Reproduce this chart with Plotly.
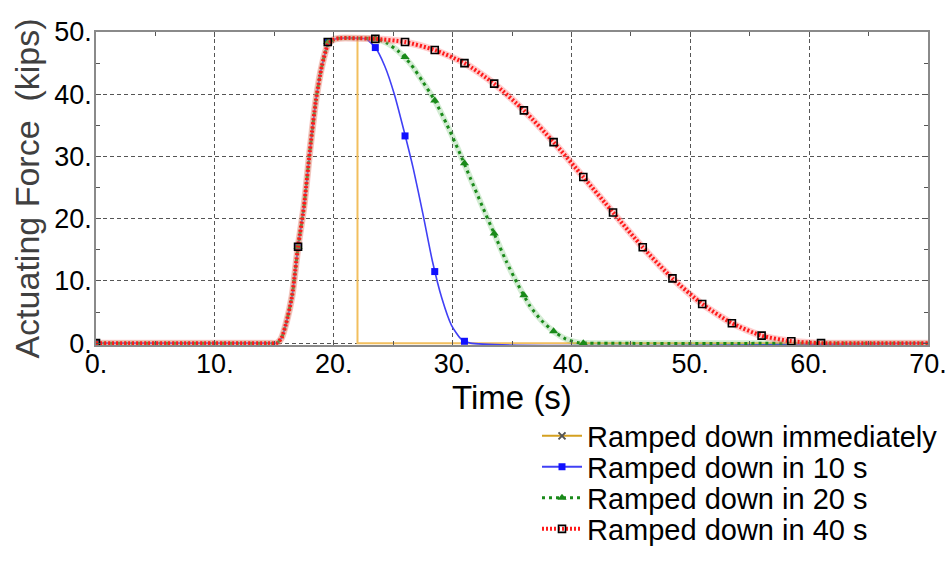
import plotly.graph_objects as go

# shared ramp-up (s, kips)
rise_t = [0, 14.5, 15.2, 15.6, 16.0, 16.5, 17.0, 17.5, 18.0, 18.5, 19.0, 19.5, 20.0, 20.5, 22.0]
rise_f = [0, 0, 0, 0.8, 3.2, 7.6, 15.5, 22.0, 31.0, 39.0, 44.5, 47.9, 48.8, 49.0, 49.0]

# ramp-down branches
imm_t = [22.0, 70]
imm_f = [0, 0]

r10_t = [22.7, 23.5, 24.3, 25.1, 25.9, 26.7, 27.5, 28.3, 29.1, 29.9, 30.7, 31.5, 70]
r10_f = [48.9, 47.5, 44.5, 40.0, 34.2, 28.0, 20.8, 13.2, 7.2, 2.9, 0.7, 0, 0]

r20_t = [23.5, 24.5, 25.5, 26.5, 27.5, 28.5, 29.5, 30.5, 31.5, 32.5, 33.5, 34.5, 35.5,
         36.5, 37.5, 38.5, 39.5, 40.5, 41.5, 70]
r20_f = [48.9, 48.2, 46.8, 44.8, 42.0, 39.0, 35.2, 31.0, 26.5, 22.0, 17.6, 13.2, 9.4,
         6.0, 3.6, 1.9, 0.7, 0.1, 0, 0]

r40_t = [23.5, 26.0, 28.5, 31.0, 33.5, 36.0, 38.5, 41.0, 43.5, 46.0, 48.5, 51.0, 53.5,
         56.0, 58.5, 61.0, 70]
r40_f = [48.9, 48.4, 47.1, 45.0, 41.7, 37.4, 32.3, 26.7, 21.0, 15.4, 10.4, 6.3, 3.2,
         1.2, 0.3, 0, 0]

# plotted marker samples
mk10_t = [0, 17.0, 19.5, 23.5, 26.0, 28.5, 31.0]
mk10_f = [0, 15.5, 48.4, 47.5, 33.3, 11.5, 0.3]
mk20_t = [0, 17.0, 19.5, 23.5, 26.0, 28.5, 31.0, 33.5, 36.0, 38.5, 41.0]
mk20_f = [0, 15.5, 48.4, 48.9, 46.0, 39.0, 28.9, 17.6, 7.7, 1.9, 0]
mk40_t = [0, 17.0, 19.5, 23.5, 26.0, 28.5, 31.0, 33.5, 36.0, 38.5, 41.0, 43.5, 46.0,
          48.5, 51.0, 53.5, 56.0, 58.5, 61.0]
mk40_f = [0, 15.5, 48.4, 48.9, 48.4, 47.1, 45.0, 41.7, 37.4, 32.3, 26.7, 21.0, 15.4,
          10.4, 6.3, 3.2, 1.2, 0.3, 0]

x_ticks = [0, 10, 20, 30, 40, 50, 60, 70]
y_ticks = [0, 10, 20, 30, 40, 50]

names = ["Ramped down immediately", "Ramped down in 10 s",
         "Ramped down in 20 s", "Ramped down in 40 s"]

FONT = "Liberation Sans, Arial, sans-serif"
GOLD = "#f2bf5e"
BLUE = "#4040f5"
GREEN = "#1a8a1a"
RED = "#ff1a1a"

fig = go.Figure()

# immediately: up, hold, drop at 22 s
fig.add_trace(go.Scatter(x=rise_t + imm_t, y=rise_f + imm_f, mode="lines",
                         line=dict(color=GOLD, width=2), showlegend=False))

# 10 s
fig.add_trace(go.Scatter(x=rise_t + r10_t, y=rise_f + r10_f, mode="lines",
                         line=dict(color=BLUE, width=1.6, shape="spline", smoothing=0.6),
                         showlegend=False))
fig.add_trace(go.Scatter(x=mk10_t, y=mk10_f, mode="markers",
                         marker=dict(symbol="square", size=7, color="#1010ff"),
                         showlegend=False))

# 20 s (dotted with a soft halo)
fig.add_trace(go.Scatter(x=rise_t + r20_t, y=rise_f + r20_f, mode="lines",
                         line=dict(color="rgba(60,170,60,0.22)", width=6, shape="spline", smoothing=0.6),
                         showlegend=False))
fig.add_trace(go.Scatter(x=rise_t + r20_t, y=rise_f + r20_f, mode="lines",
                         line=dict(color=GREEN, width=3, dash="3px,4px", shape="spline", smoothing=0.6),
                         showlegend=False))
fig.add_trace(go.Scatter(x=mk20_t, y=mk20_f, mode="markers",
                         marker=dict(symbol="triangle-up", size=8, color=GREEN),
                         showlegend=False))

# 40 s (red hatched line on a pink band)
fig.add_trace(go.Scatter(x=rise_t + r40_t, y=rise_f + r40_f, mode="lines",
                         line=dict(color="rgba(255,130,130,0.4)", width=7, shape="spline", smoothing=0.6),
                         showlegend=False))
fig.add_trace(go.Scatter(x=rise_t + r40_t, y=rise_f + r40_f, mode="lines",
                         line=dict(color=RED, width=4, dash="2px,2px", shape="spline", smoothing=0.6),
                         showlegend=False))
fig.add_trace(go.Scatter(x=mk40_t, y=mk40_f, mode="markers",
                         marker=dict(symbol="square-open", size=7, color="black",
                                     line=dict(width=1.6)),
                         showlegend=False))

# legend entries, one small legend each so the rows sit close together
leg_styles = [
    dict(line=dict(color="#d4a020", width=2),
         marker=dict(symbol="x-thin", size=7, color="#555", line=dict(width=2, color="#555"))),
    dict(line=dict(color=BLUE, width=2),
         marker=dict(symbol="square", size=7, color="#1010ff")),
    dict(line=dict(color=GREEN, width=3, dash="3px,4px"),
         marker=dict(symbol="triangle-up", size=8, color=GREEN)),
    dict(line=dict(color=RED, width=4, dash="2px,2px"),
         marker=dict(symbol="square-open", size=7, color="black", line=dict(width=1.6))),
]
leg_ids = ["legend", "legend2", "legend3", "legend4"]
for name, style, lid in zip(names, leg_styles, leg_ids):
    fig.add_trace(go.Scatter(x=[None], y=[None], mode="lines+markers", name=name,
                             legend=lid, showlegend=True, **style))

axis_common = dict(
    showgrid=True, gridcolor="#555", gridwidth=1.3, griddash="4px,3px",
    showline=True, linecolor="#8a8a8a", linewidth=1.5, mirror="ticks",
    ticks="inside", ticklen=5, tickcolor="#555",
    minor=dict(ticks="inside", ticklen=4, tickcolor="#555", showgrid=False),
    zeroline=False, automargin=False,
)

fig.update_xaxes(**axis_common, range=[0, 70], tickvals=x_ticks,
                 ticktext=[f"{v}." for v in x_ticks], minor_dtick=5,
                 tickfont=dict(family=FONT, size=27, color="black"),
                 ticklabelstandoff=-6,
                 title=dict(text="Time (s)", font=dict(family=FONT, size=33, color="black"),
                            standoff=0))
fig.update_yaxes(**axis_common, range=[-0.3, 50], tickvals=y_ticks,
                 ticktext=[f"{v}." for v in y_ticks], minor_dtick=5,
                 tickfont=dict(family=FONT, size=27, color="black"),
                 ticklabelstandoff=-3,
                 title=dict(text="Actuating Force  (kips)",
                            font=dict(family=FONT, size=34, color="#404040"),
                            standoff=4))

leg_rows = [436, 467, 498, 529]
leg_common = dict(xref="container", yref="container", x=537 / 950,
                  xanchor="left", yanchor="middle", bgcolor="rgba(0,0,0,0)",
                  font=dict(family=FONT, size=29, color="black"), itemwidth=40)
legends = {lid: dict(leg_common, y=1 - row / 567) for lid, row in zip(leg_ids, leg_rows)}

fig.update_layout(
    width=950, height=567,
    plot_bgcolor="white", paper_bgcolor="white",
    margin=dict(l=96, r=22, t=32, b=222, autoexpand=False),
    **legends,
)

fig.write_html("out.html", config={"displayModeBar": False},
               post_script="document.body.style.margin = '0';")
